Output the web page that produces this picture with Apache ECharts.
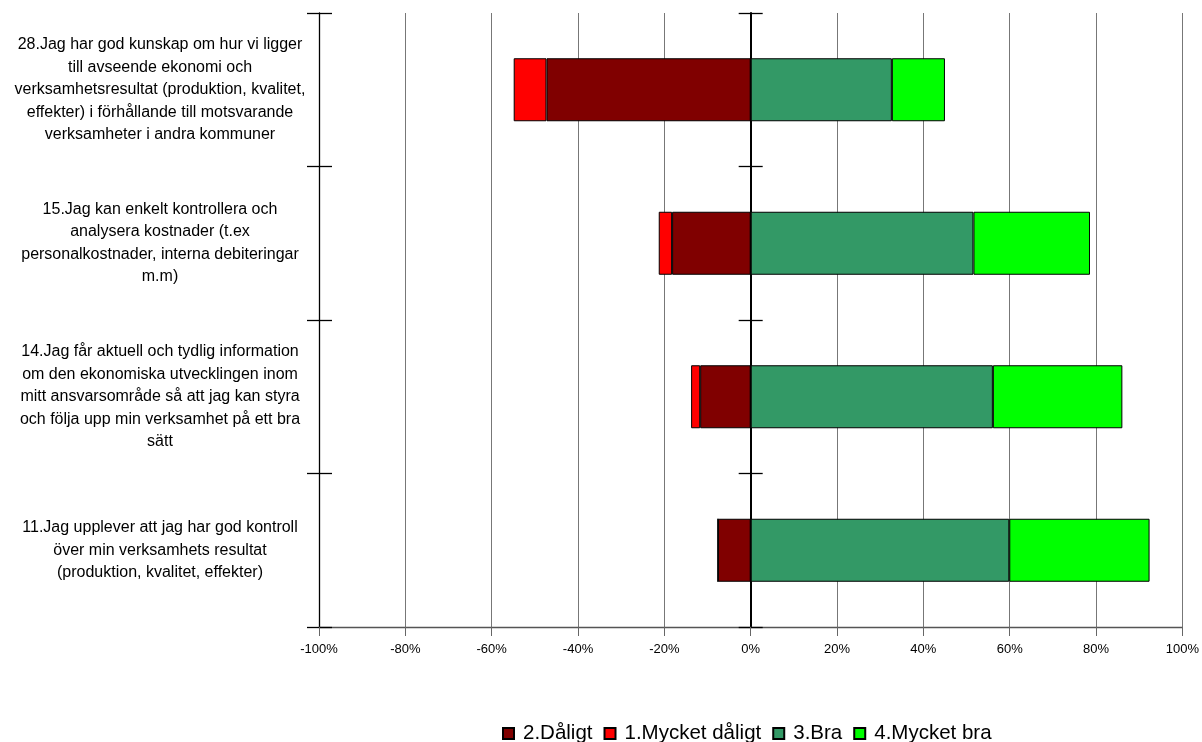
<!DOCTYPE html>
<html>
<head>
<meta charset="utf-8">
<script src="https://cdn.jsdelivr.net/npm/echarts@6/dist/echarts.min.js"></script>
<style>
html,body{margin:0;padding:0;background:#fff;}
#c{width:1202px;height:742px;}
</style>
</head>
<body>
<div id="c"></div>
<script>
var categories = [
  "28.Jag har god kunskap om hur vi ligger\ntill avseende ekonomi och\nverksamhetsresultat (produktion, kvalitet,\neffekter) i förhållande till motsvarande\nverksamheter i andra kommuner",
  "15.Jag kan enkelt kontrollera och\nanalysera kostnader (t.ex\npersonalkostnader, interna debiteringar\nm.m)",
  "14.Jag får aktuell och tydlig information\nom den ekonomiska utvecklingen inom\nmitt ansvarsområde så att jag kan styra\noch följa upp min verksamhet på ett bra\nsätt",
  "11.Jag upplever att jag har god kontroll\növer min verksamhets resultat\n(produktion, kvalitet, effekter)"
];
var seriesNames = ["2.Dåligt", "1.Mycket dåligt", "3.Bra", "4.Mycket bra"];
var daligt = [-47.3, -18.2, -11.7, -7.6];
var mycketDaligt = [-7.6, -3.1, -2.1, 0];
var bra = [32.7, 51.6, 56.1, 59.9];
var mycketBra = [12.3, 27.0, 30.0, 32.5];
var xTicks = [-100, -80, -60, -40, -20, 0, 20, 40, 60, 80, 100];

var colors = ["#800000", "#FF0000", "#339966", "#00FF00"];
var values = [daligt, mycketDaligt, bra, mycketBra];
var FONT = 'Liberation Sans, Arial, sans-serif';

var chart = echarts.init(document.getElementById('c'), null, {renderer: 'canvas'});

function baseY(extra) {
  var o = {
    type: 'category',
    data: categories,
    inverse: true,
    axisLine: {show: false},
    axisTick: {show: false},
    axisLabel: {show: false},
    splitLine: {show: false}
  };
  for (var k in extra) o[k] = extra[k];
  return o;
}

var option = {
  animation: false,
  backgroundColor: '#ffffff',
  grid: {left: 319, right: 17, top: 13, bottom: 115, containLabel: false},
  legend: {
    data: seriesNames,
    top: 718,
    left: 497,
    itemWidth: 11,
    itemHeight: 11,
    itemGap: 11,
    icon: 'rect',
    textStyle: {fontFamily: FONT, fontSize: 20.5, color: '#000', padding: [0, 0, 0, 4]}
  },
  xAxis: {
    type: 'value',
    min: xTicks[0],
    max: xTicks[xTicks.length - 1],
    interval: 20,
    axisLine: {show: true, onZero: false, lineStyle: {color: '#555', width: 1.3}},
    axisTick: {show: true, length: 9, lineStyle: {color: '#666'}},
    axisLabel: {
      formatter: function (v) { return v + '%'; },
      fontFamily: FONT,
      fontSize: 13,
      color: '#000',
      margin: 16
    },
    splitLine: {show: true, lineStyle: {color: '#777', width: 1}}
  },
  yAxis: [
    baseY({
      position: 'left',
      axisLine: {show: true, onZero: true, onZeroAxisIndex: 0, lineStyle: {color: '#000', width: 2}},
      axisTick: {show: true, inside: false, length: 12, lineStyle: {color: '#000', width: 1.3}}
    }),
    baseY({
      position: 'right',
      axisLine: {show: false, onZero: true, onZeroAxisIndex: 0},
      axisTick: {show: true, inside: false, length: 12, lineStyle: {color: '#000', width: 1.3}}
    }),
    baseY({
      position: 'left',
      axisLine: {show: true, onZero: false, lineStyle: {color: '#000', width: 1.3}},
      axisTick: {show: true, inside: false, length: 12, lineStyle: {color: '#000', width: 1.3}},
      axisLabel: {
        show: true,
        align: 'center',
        margin: 159,
        fontFamily: FONT,
        fontSize: 16,
        lineHeight: 22.5,
        color: '#000'
      }
    }),
    baseY({
      position: 'left',
      axisLine: {show: false, onZero: false},
      axisTick: {show: true, inside: true, length: 13, lineStyle: {color: '#000', width: 1.3}}
    })
  ],
  series: seriesNames.map(function (name, i) {
    return {
      name: name,
      type: 'bar',
      stack: 'total',
      yAxisIndex: 0,
      barWidth: 63,
      data: values[i],
      itemStyle: {color: colors[i], borderColor: '#000', borderWidth: 1}
    };
  })
};
chart.setOption(option);
</script>
</body>
</html>
